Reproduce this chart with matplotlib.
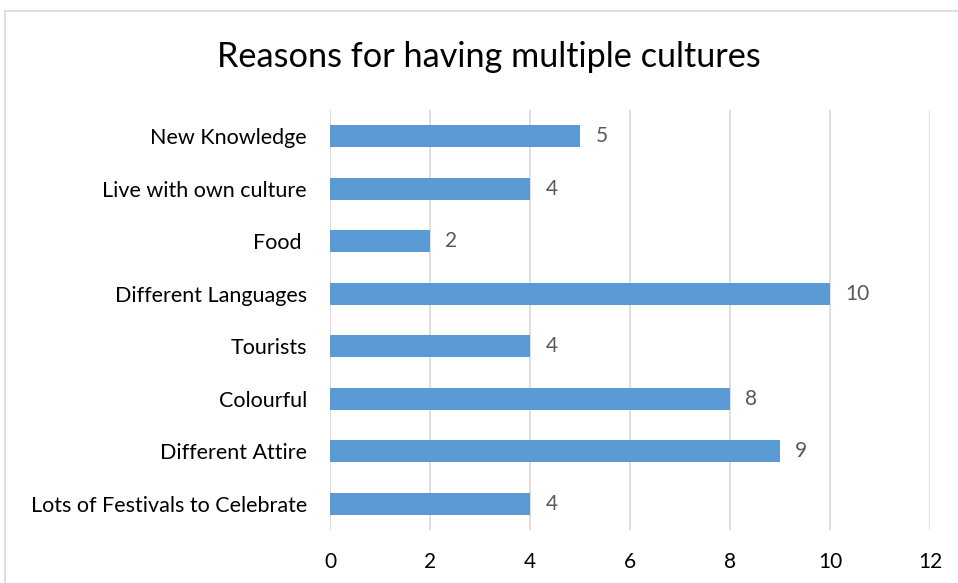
import matplotlib.pyplot as plt
from matplotlib.patches import Rectangle

categories = ["Lots of Festivals to Celebrate", "Different Attire", "Colourful",
              "Tourists", "Different Languages", "Food ", "Live with own culture",
              "New Knowledge"]
counts = [4, 9, 8, 4, 10, 2, 4, 5]
x_ticks = [0, 2, 4, 6, 8, 10, 12]

plt.rcParams['font.family'] = ['Lato', 'DejaVu Sans']

fig = plt.figure(figsize=(9.58, 5.83), dpi=100)
ax = fig.add_axes([0.3445, 0.0909, 0.6263, 0.7204])

# chart frame (partly cut off at right and bottom)
fig.patches.append(Rectangle((5 / 958, -0.1), 1.2, 1 - 11 / 583 + 0.1,
                             transform=fig.transFigure, fill=False,
                             edgecolor='#D9D9D9', linewidth=1.2))

pos = range(len(categories))
ax.barh(pos, counts, height=0.42, color='#5B9BD5', zorder=3)
for y, v in zip(pos, counts):
    ax.annotate(str(v), (v, y), xytext=(11, 0), textcoords='offset points',
                va='center', ha='left', fontsize=15, color='#595959')

ax.set_xlim(0, 12)
ax.set_ylim(-0.5, len(categories) - 0.5)
ax.set_xticks(x_ticks)
ax.set_yticks(list(pos))
ax.set_yticklabels(categories)
ax.tick_params(axis='both', length=0, colors='#000000')
ax.tick_params(axis='x', pad=16, labelsize=15)
ax.tick_params(axis='y', pad=16.5, labelsize=15.5)
ax.grid(axis='x', color='#D9D9D9', linewidth=1.2, zorder=0)
for s in ax.spines.values():
    s.set_visible(False)

fig.text(0.51, 1 - 57 / 583, "Reasons for having multiple cultures",
         ha='center', va='center', fontsize=24.7, color='#000000')

fig.savefig('out.png', dpi=100)
